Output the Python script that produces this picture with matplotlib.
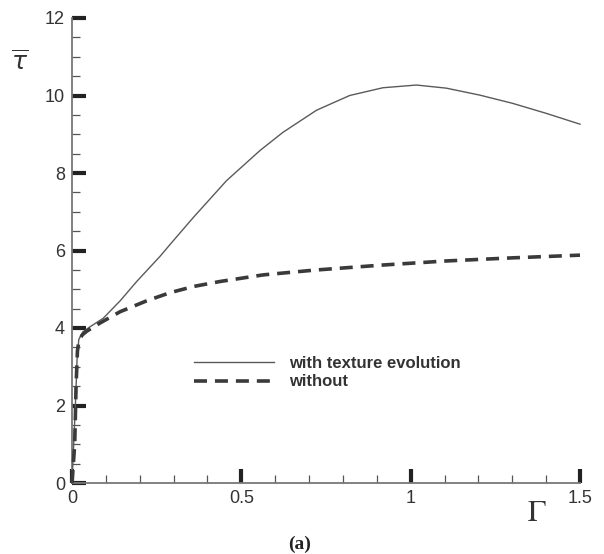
import matplotlib
matplotlib.use("Agg")
import matplotlib.pyplot as plt
from matplotlib.ticker import MultipleLocator

plt.rcParams['font.family'] = ['Liberation Sans', 'DejaVu Sans']

# Data
solid_x = [0, 0.005, 0.01, 0.015, 0.02, 0.032, 0.053, 0.092, 0.142, 0.191, 0.26,
           0.289, 0.358, 0.456, 0.555, 0.623, 0.722, 0.82, 0.918, 1.017, 1.105,
           1.204, 1.30, 1.40, 1.5]
solid_y = [0, 1.0, 2.0, 3.2, 3.7, 3.9, 4.03, 4.25, 4.70, 5.20, 5.85,
           6.15, 6.85, 7.80, 8.58, 9.05, 9.62, 10.0, 10.2, 10.27, 10.19,
           10.01, 9.80, 9.54, 9.26]

dashed_x = [0, 0.008, 0.012, 0.016, 0.02, 0.03, 0.044, 0.083, 0.142, 0.22,
            0.289, 0.358, 0.437, 0.564, 0.711, 0.909, 1.105, 1.30, 1.5]
dashed_y = [0, 1.0, 2.5, 3.4, 3.65, 3.82, 3.92, 4.13, 4.42, 4.70,
            4.91, 5.07, 5.2, 5.37, 5.49, 5.62, 5.73, 5.81, 5.88]

labels = ["with texture evolution", "without"]
x_major = [0, 0.5, 1, 1.5]
x_ticklabels = ["0", "0.5", "1", "1.5"]
y_major = [0, 2, 4, 6, 8, 10, 12]

fig = plt.figure(figsize=(6.04, 5.54), dpi=100)
ax = fig.add_axes([72/604, 1-483/554, (580-72)/604, (483-18)/554])

ax.plot(solid_x, solid_y, color='#5a5a5a', lw=1.0, label=labels[0], clip_on=False,
        zorder=3, solid_joinstyle='round')
ax.plot(dashed_x, dashed_y, color='#3a3a3a', lw=2.6, ls=(0, (3.6, 2.2)),
        label=labels[1], clip_on=False, zorder=3)

ax.set_xlim(0, 1.5)
ax.set_ylim(0, 12)
for s in ['top', 'right']:
    ax.spines[s].set_visible(False)
for s in ['left', 'bottom']:
    ax.spines[s].set_color('#777777')
    ax.spines[s].set_linewidth(1.3)

ax.set_xticks(x_major)
ax.set_xticklabels(x_ticklabels)
ax.set_yticks(y_major)
ax.xaxis.set_minor_locator(MultipleLocator(0.1))
ax.yaxis.set_minor_locator(MultipleLocator(0.5))
ax.tick_params(which='major', direction='in', length=10, width=3, color='#222222',
               labelsize=13, labelcolor='#333333', pad=5)
ax.tick_params(which='minor', direction='in', length=5.5, width=0.9, color='#555555')

leg = ax.legend(loc='upper left', bbox_to_anchor=(194/604, 1-356/554),
                bbox_transform=fig.transFigure, frameon=False,
                handlelength=4.8, handletextpad=0.9, labelspacing=0.2,
                borderaxespad=0, borderpad=0,
                prop={'weight': 'bold', 'size': 12})
for t in leg.get_texts():
    t.set_color('#333333')

fig.text(20/604, 1-62/554, r'$\overline{\tau}$', fontsize=18, ha='center', va='center',
         family='DejaVu Serif', color='#333333')
fig.text(537/604, 1-513/554, r'$\Gamma$', fontsize=22, ha='center', va='center',
         color='#333333', math_fontfamily='stix')
fig.text(300/604, 1-544/554, '(a)', fontsize=14, ha='center', va='center',
         family='Liberation Serif', weight='bold', color='#222222')

fig.savefig('out.png', dpi=100, facecolor='white')
